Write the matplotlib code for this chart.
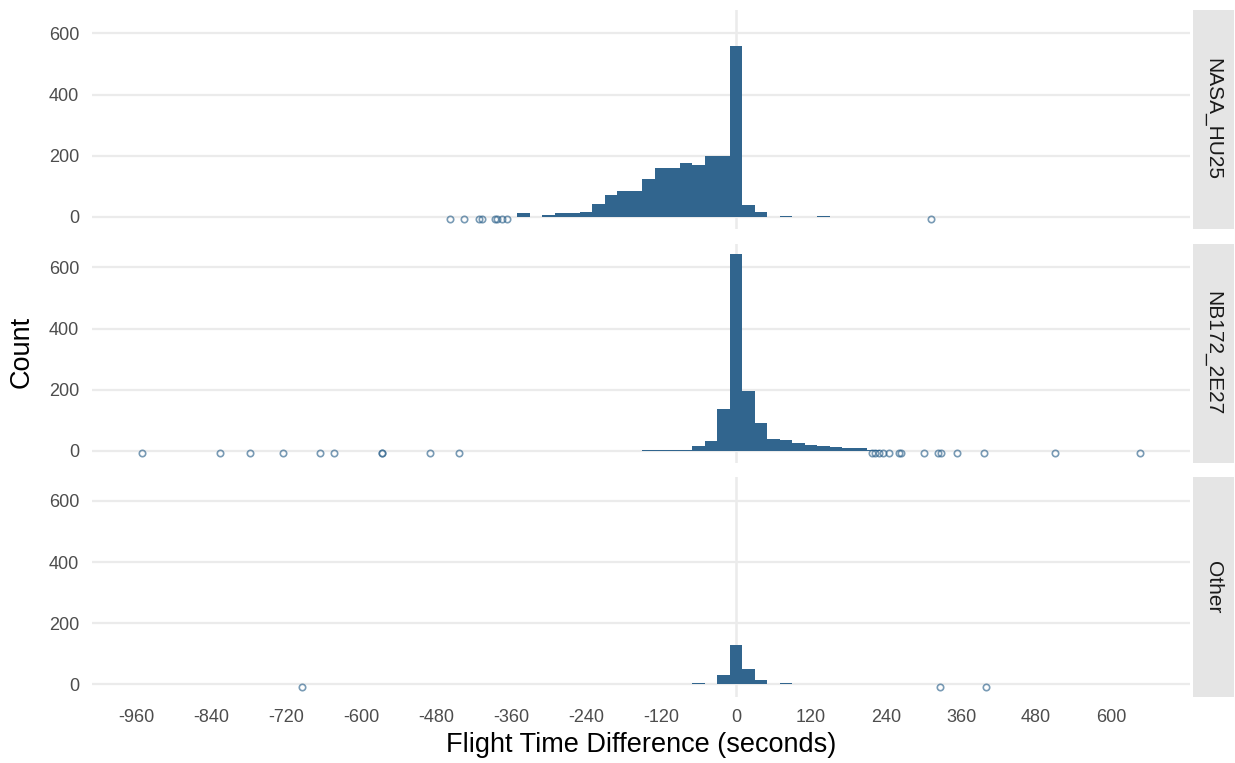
import matplotlib.pyplot as plt
import numpy as np

plt.rcParams['font.family'] = ['Liberation Sans', 'DejaVu Sans']
plt.rcParams['axes.unicode_minus'] = False

# histogram bins are 20 s wide, centred on multiples of 20
binwidth = 20

facets = ["NASA_HU25", "NB172_2E27", "Other"]

hu25_bins = [-340, -300, -280, -260, -240, -220, -200, -180, -160, -140, -120, -100,
             -80, -60, -40, -20, 0, 20, 40, 80, 140]
hu25_counts = [12, 7, 12, 13, 16, 41, 70, 85, 85, 122, 160, 161,
               176, 170, 199, 198, 560, 38, 15, 3, 1]
hu25_outliers = [-458, -435, -411, -406, -386, -382, -375, -366, 312]

nb172_bins = [-140, -120, -100, -80, -60, -40, -20, 0, 20, 40, 60, 80, 100,
              120, 140, 160, 180, 200, 220]
nb172_counts = [2, 2, 2, 4, 15, 33, 136, 644, 197, 91, 38, 35, 25,
                19, 14, 12, 8, 8, 3]
nb172_outliers = [-951, -826, -778, -724, -665, -643, -567, -567, -489, -443,
                  217, 222, 229, 235, 245, 260, 264, 301, 323, 328, 353, 396, 511, 646]

other_bins = [-320, -260, -140, -120, -100, -80, -60, -40, -20, 0, 20, 40, 60, 80,
              100, 140, 180, 200]
other_counts = [1, 1, 1, 1, 1, 1, 4, 2, 31, 130, 50, 14, 2, 4,
                1, 2, 1, 1]
other_outliers = [-694, 326, 400]

panels = [(hu25_bins, hu25_counts, hu25_outliers),
          (nb172_bins, nb172_counts, nb172_outliers),
          (other_bins, other_counts, other_outliers)]

bar_col = "#31658E"
grid_col = "#EBEBEB"
point_y = -7.5

# shared scales with 5% padding either side
all_x = np.concatenate([np.array(p[2], float) for p in panels])
xr = all_x.max() - all_x.min()
xlim = (all_x.min() - 0.05 * xr, all_x.max() + 0.05 * xr)
ymax = max(max(p[1]) for p in panels)
yr = ymax - point_y
ylim = (point_y - 0.05 * yr, ymax + 0.05 * yr)

fig = plt.figure(figsize=(12.35, 7.63), dpi=100)
W, H = 1235, 763
left, right = 91.6, 1189.8
strip_l, strip_r = 1192.7, 1233.5
tops = [10, 244, 477.5]
ph = 219

for i, (bins, counts, outl) in enumerate(panels):
    top = tops[i]
    ax = fig.add_axes([left / W, (H - top - ph) / H, (right - left) / W, ph / H])
    ax.set_xlim(xlim)
    ax.set_ylim(ylim)
    for s in ax.spines.values():
        s.set_visible(False)
    for yv in [0, 200, 400, 600]:
        ax.axhline(yv, color=grid_col, lw=1.6, zorder=0)
    ax.axvline(0, color=grid_col, lw=1.8, zorder=0)
    ax.bar(bins, counts, width=binwidth, color=bar_col, linewidth=0, zorder=2)
    ax.plot(outl, [point_y] * len(outl), 'o', mfc='none', mec=bar_col,
            alpha=0.65, ms=4.6, mew=1.2, zorder=3)
    ax.set_yticks([0, 200, 400, 600])
    ax.tick_params(length=0, labelsize=13, labelcolor="#4D4D4D", pad=9)
    ax.set_xticks(np.arange(-960, 601, 120))
    if i < 2:
        ax.tick_params(labelbottom=False)
    else:
        ax.tick_params(axis='x', pad=9)

    sax = fig.add_axes([strip_l / W, (H - top - ph) / H, (strip_r - strip_l) / W, ph / H])
    sax.set_facecolor("#E5E5E5")
    sax.set_xticks([])
    sax.set_yticks([])
    for s in sax.spines.values():
        s.set_visible(False)
    sax.text(0.5, 0.5, facets[i], rotation=-90, ha='center', va='center',
             fontsize=15, color="#1A1A1A", transform=sax.transAxes)

fig.text((left + right) / 2 / W, 1 - 745 / H, "Flight Time Difference (seconds)",
         ha='center', va='center', fontsize=19.5)
fig.text(22 / W, 1 - 352 / H, "Count", rotation=90, ha='center', va='center', fontsize=19.5)

fig.savefig("out.png", dpi=100)
